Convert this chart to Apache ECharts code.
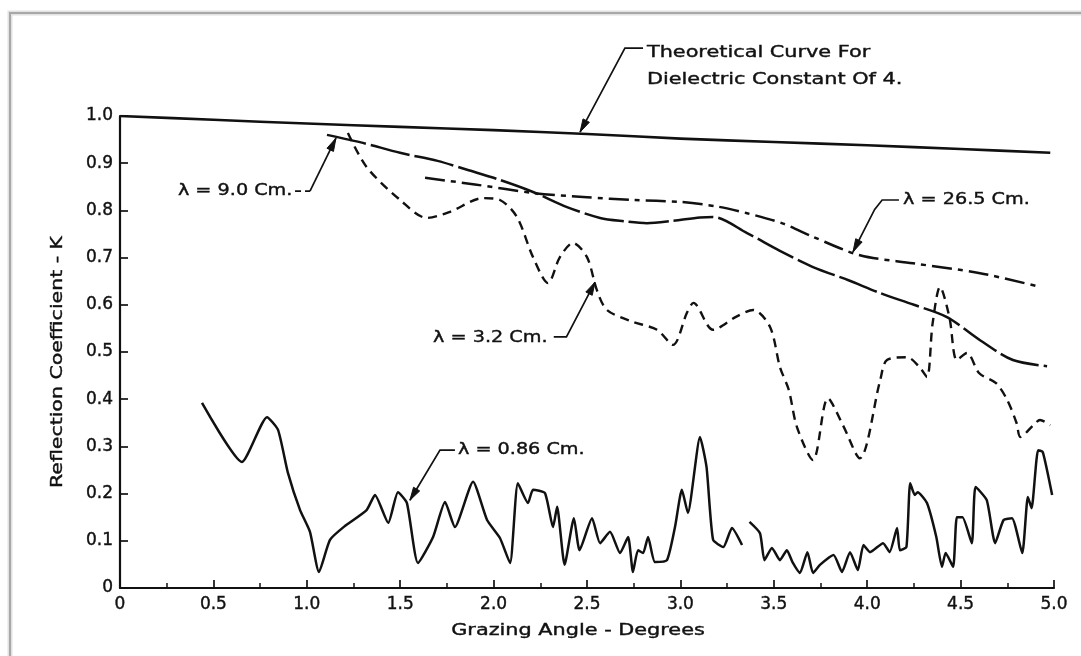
<!DOCTYPE html>
<html><head><meta charset="utf-8">
<script src="https://cdn.jsdelivr.net/npm/echarts@6/dist/echarts.min.js"></script>
<style>html,body{margin:0;padding:0;background:#fff}#c{width:1081px;height:656px}</style>
</head><body><div id="c"></div>
<script>
// ---------- DATA ----------
const xTickValues = [0, 0.5, 1.0, 1.5, 2.0, 2.5, 3.0, 3.5, 4.0, 4.5, 5.0];
const yTickValues = [0, 0.1, 0.2, 0.3, 0.4, 0.5, 0.6, 0.7, 0.8, 0.9, 1.0];

const theoryX = [0, 0.5, 1.0, 1.5, 2.0, 2.5, 3.0, 3.5, 4.0, 4.5, 4.98];
const theoryY = [1.000, 0.992, 0.984, 0.977, 0.970, 0.962, 0.952, 0.945, 0.938, 0.930, 0.922];

const lam90X = [1.108, 1.30, 1.499, 1.70, 1.858, 2.03, 2.211, 2.393, 2.570, 2.70, 2.821, 2.96, 3.105, 3.175, 3.357, 3.53, 3.710, 3.90, 4.069, 4.25, 4.427, 4.604, 4.780, 4.963];
const lam90Y = [0.960, 0.943, 0.922, 0.905, 0.886, 0.865, 0.839, 0.807, 0.784, 0.777, 0.773, 0.778, 0.785, 0.786, 0.752, 0.715, 0.680, 0.652, 0.625, 0.600, 0.574, 0.525, 0.483, 0.470];

const lam265X = [1.633, 1.90, 2.211, 2.50, 2.746, 2.998, 3.20, 3.357, 3.55, 3.710, 3.961, 4.245, 4.604, 4.925];
const lam265Y = [0.869, 0.855, 0.837, 0.828, 0.822, 0.818, 0.808, 0.794, 0.772, 0.744, 0.705, 0.688, 0.667, 0.638];

const lam32X = [1.22, 1.32, 1.50, 1.643, 1.767, 1.944, 2.034, 2.125, 2.211, 2.291, 2.355, 2.425, 2.50, 2.553, 2.607, 2.746, 2.875, 2.96, 3.035, 3.07, 3.175, 3.30, 3.39, 3.48, 3.533, 3.58, 3.624, 3.71, 3.79, 3.87, 3.96, 4.07, 4.106, 4.213, 4.28, 4.32, 4.35, 4.39, 4.44, 4.48, 4.534, 4.60, 4.69, 4.75, 4.80, 4.82, 4.89, 4.925, 4.98];
const lam32Y = [0.964, 0.892, 0.822, 0.784, 0.797, 0.826, 0.822, 0.786, 0.701, 0.646, 0.701, 0.731, 0.701, 0.631, 0.589, 0.564, 0.547, 0.515, 0.583, 0.604, 0.547, 0.575, 0.589, 0.553, 0.468, 0.420, 0.341, 0.271, 0.402, 0.345, 0.275, 0.441, 0.483, 0.489, 0.468, 0.447, 0.560, 0.638, 0.574, 0.483, 0.498, 0.455, 0.434, 0.398, 0.349, 0.320, 0.345, 0.356, 0.345];

const lam086X = [0.439, 0.653, 0.787, 0.846, 0.899, 0.964, 1.017, 1.065, 1.124, 1.20, 1.32, 1.365, 1.436, 1.488, 1.536, 1.595, 1.676, 1.74, 1.793, 1.89, 1.965, 2.034, 2.088, 2.13, 2.184, 2.211, 2.275, 2.318, 2.34, 2.38, 2.43, 2.46, 2.527, 2.57, 2.623, 2.677, 2.72, 2.746, 2.773, 2.80, 2.827, 2.864, 2.928, 2.971, 3.008, 3.04, 3.105, 3.14, 3.175, 3.23, 3.276, 3.33, 3.35, 3.37, 3.426, 3.45, 3.49, 3.533, 3.57, 3.60, 3.64, 3.68, 3.71, 3.747, 3.82, 3.865, 3.908, 3.95, 3.98, 4.015, 4.085, 4.12, 4.16, 4.175, 4.21, 4.23, 4.255, 4.27, 4.32, 4.37, 4.40, 4.42, 4.46, 4.48, 4.51, 4.56, 4.58, 4.64, 4.685, 4.73, 4.775, 4.83, 4.86, 4.88, 4.915, 4.94, 4.99];
const lam086Y = [0.392, 0.267, 0.362, 0.335, 0.244, 0.165, 0.119, 0.034, 0.102, 0.130, 0.165, 0.197, 0.138, 0.203, 0.180, 0.053, 0.108, 0.182, 0.129, 0.225, 0.144, 0.106, 0.053, 0.222, 0.180, 0.208, 0.201, 0.129, 0.172, 0.049, 0.148, 0.080, 0.148, 0.095, 0.119, 0.074, 0.108, 0.034, 0.080, 0.074, 0.108, 0.055, 0.059, 0.129, 0.208, 0.159, 0.320, 0.256, 0.102, 0.087, 0.127, 0.091, null, 0.140, 0.116, 0.059, 0.085, 0.059, 0.080, 0.055, 0.032, 0.076, 0.032, 0.049, 0.070, 0.034, 0.076, 0.038, 0.091, 0.076, 0.095, 0.076, 0.127, 0.080, 0.087, 0.222, 0.197, 0.203, 0.180, 0.108, 0.045, 0.074, 0.045, 0.150, 0.150, 0.095, 0.214, 0.186, 0.095, 0.144, 0.148, 0.074, 0.193, 0.169, 0.292, 0.288, 0.197];

const xTitle = 'Grazing Angle - Degrees';
const yTitle = 'Reflection Coefficient - K';

// ---------- STYLE / LAYOUT ----------
const INK = '#111111';
const FONT = '"DejaVu Sans", "Noto Sans", sans-serif';
function pairs(xs, ys) { return xs.map((x, i) => [x, ys[i] == null ? '-' : ys[i]]); }

const chart = echarts.init(document.getElementById('c'), null, { renderer: 'canvas' });

function lineSeries(name, xs, ys, dash, width, smooth) {
  return {
    name, type: 'line', data: pairs(xs, ys), symbol: 'none', showSymbol: false,
    smooth: smooth == null ? 0.3 : smooth, connectNulls: false, silent: true,
    lineStyle: { color: INK, width: width || 2.5, type: dash || 'solid', cap: 'butt', join: 'round' }
  };
}

const labelStyle = { color: INK, fontFamily: FONT, fontSize: 17, textBorderColor: INK, textBorderWidth: 0.4 };

chart.setOption({
  animation: false,
  backgroundColor: '#ffffff',
  grid: { left: 120, right: 27, top: 116, bottom: 68, containLabel: false },
  xAxis: {
    type: 'value', min: 0, max: 5, interval: 0.5,
    axisLine: { show: true, lineStyle: { color: INK, width: 2.2 } },
    axisTick: { show: true, inside: true, length: 8, lineStyle: { color: INK, width: 1.7 } },
    minorTick: { show: true, splitNumber: 2, length: 5, lineStyle: { color: INK, width: 1.5 } },
    splitLine: { show: false },
    axisLabel: Object.assign({}, labelStyle, { margin: 8,
      formatter: v => (xTickValues.indexOf(v) < 0 ? '' : (v === 0 ? '0' : v.toFixed(1))) })
  },
  yAxis: {
    type: 'value', min: 0, max: 1, interval: 0.1,
    axisLine: { show: true, lineStyle: { color: INK, width: 2.2 } },
    axisTick: { show: true, inside: true, length: 8, lineStyle: { color: INK, width: 1.7 } },
    splitLine: { show: false },
    axisLabel: Object.assign({}, labelStyle, { margin: 7,
      formatter: v => {
        const t = yTickValues.find(a => Math.abs(a - v) < 1e-6);
        if (t === undefined) return '';
        return t === 0 ? '0' : t.toFixed(1);
      } })
  },
  series: [
    lineSeries('Theoretical', theoryX, theoryY, 'solid', 2.6),
    lineSeries('λ = 9.0 Cm.', lam90X, lam90Y, [40, 5], 2.5),
    lineSeries('λ = 26.5 Cm.', lam265X, lam265Y, [20, 6, 5, 6], 2.5),
    lineSeries('λ = 3.2 Cm.', lam32X, lam32Y, [9, 6], 2.4),
    lineSeries('λ = 0.86 Cm.', lam086X, lam086Y, 'solid', 2.5, 0.18)
  ]
});

// ---------- ANNOTATIONS (anchors in data coordinates) ----------
const annotations = [
  { lines: ['Theoretical Curve For', 'Dielectric Constant Of 4.'], text: [2.821, 1.133], lineGap: 27, sx: 1.3,
    path: [[2.800, 1.144], [2.703, 1.144], [2.463, 0.966]] },
  { lines: ['λ = 9.0 Cm.'], text: [0.310, 0.841], sx: 1.2, dashLead: [[0.937, 0.841], [1.017, 0.841]],
    path: [[1.017, 0.841], [1.156, 0.953]] },
  { lines: ['λ = 26.5 Cm.'], text: [4.192, 0.822], sx: 1.2,
    path: [[4.170, 0.822], [4.080, 0.822], [4.040, 0.802], [3.924, 0.712]] },
  { lines: ['λ = 3.2 Cm.'], text: [1.676, 0.530], sx: 1.2,
    path: [[2.322, 0.532], [2.390, 0.532], [2.543, 0.648]] },
  { lines: ['λ = 0.86 Cm.'], text: [1.809, 0.292], sx: 1.2,
    path: [[1.793, 0.292], [1.713, 0.292], [1.552, 0.186]] }
];

function px(p) { return chart.convertToPixel({ gridIndex: 0 }, p); }

const graphics = [];
// scanned page frame (top and left edge)
graphics.push({ type: 'polyline', shape: { points: [[10, 656], [10, 13], [1081, 13]] },
  style: { stroke: '#e2e2e2', lineWidth: 5, fill: null }, z: 1 });
graphics.push({ type: 'polyline', shape: { points: [[10, 656], [10, 13], [1081, 13]] },
  style: { stroke: '#a8a8a8', lineWidth: 2, fill: null }, z: 2 });

const txtStyle = (s, size, align) => ({ text: s, fill: INK, font: size + 'px ' + FONT, textAlign: align,
  textVerticalAlign: 'middle', stroke: INK, lineWidth: 0.4 });

annotations.forEach(a => {
  const t = px(a.text);
  a.lines.forEach((s, i) => {
    graphics.push({ type: 'text', x: t[0], y: t[1] + i * (a.lineGap || 0), scaleX: a.sx,
      style: txtStyle(s, 16, 'left'), z: 10 });
  });
  if (a.dashLead) {
    graphics.push({ type: 'polyline', shape: { points: a.dashLead.map(px) },
      style: { stroke: INK, lineWidth: 1.7, fill: null, lineDash: [6, 4] }, z: 10 });
  }
  const pts = a.path.map(px);
  graphics.push({ type: 'polyline', shape: { points: pts, smooth: 0 },
    style: { stroke: INK, lineWidth: 1.7, fill: null }, z: 10 });
  const tip = pts[pts.length - 1], prev = pts[pts.length - 2];
  const dx = tip[0] - prev[0], dy = tip[1] - prev[1], L = Math.hypot(dx, dy);
  const ux = dx / L, uy = dy / L, len = 13, w = 3.6;
  graphics.push({ type: 'polygon', shape: { points: [
      tip,
      [tip[0] - ux * len - uy * w, tip[1] - uy * len + ux * w],
      [tip[0] - ux * len + uy * w, tip[1] - uy * len - ux * w]] },
    style: { fill: INK, stroke: INK, lineWidth: 1 }, z: 11 });
});

// axis titles
graphics.push({ type: 'text', x: 578, y: 631, scaleX: 1.3, style: txtStyle(xTitle, 16, 'center'), z: 10 });
graphics.push({ type: 'text', x: 58, y: 362, rotation: Math.PI / 2, scaleX: 1.28, style: txtStyle(yTitle, 16, 'center'), z: 10 });

chart.setOption({ graphic: graphics });
</script>
</body></html>
